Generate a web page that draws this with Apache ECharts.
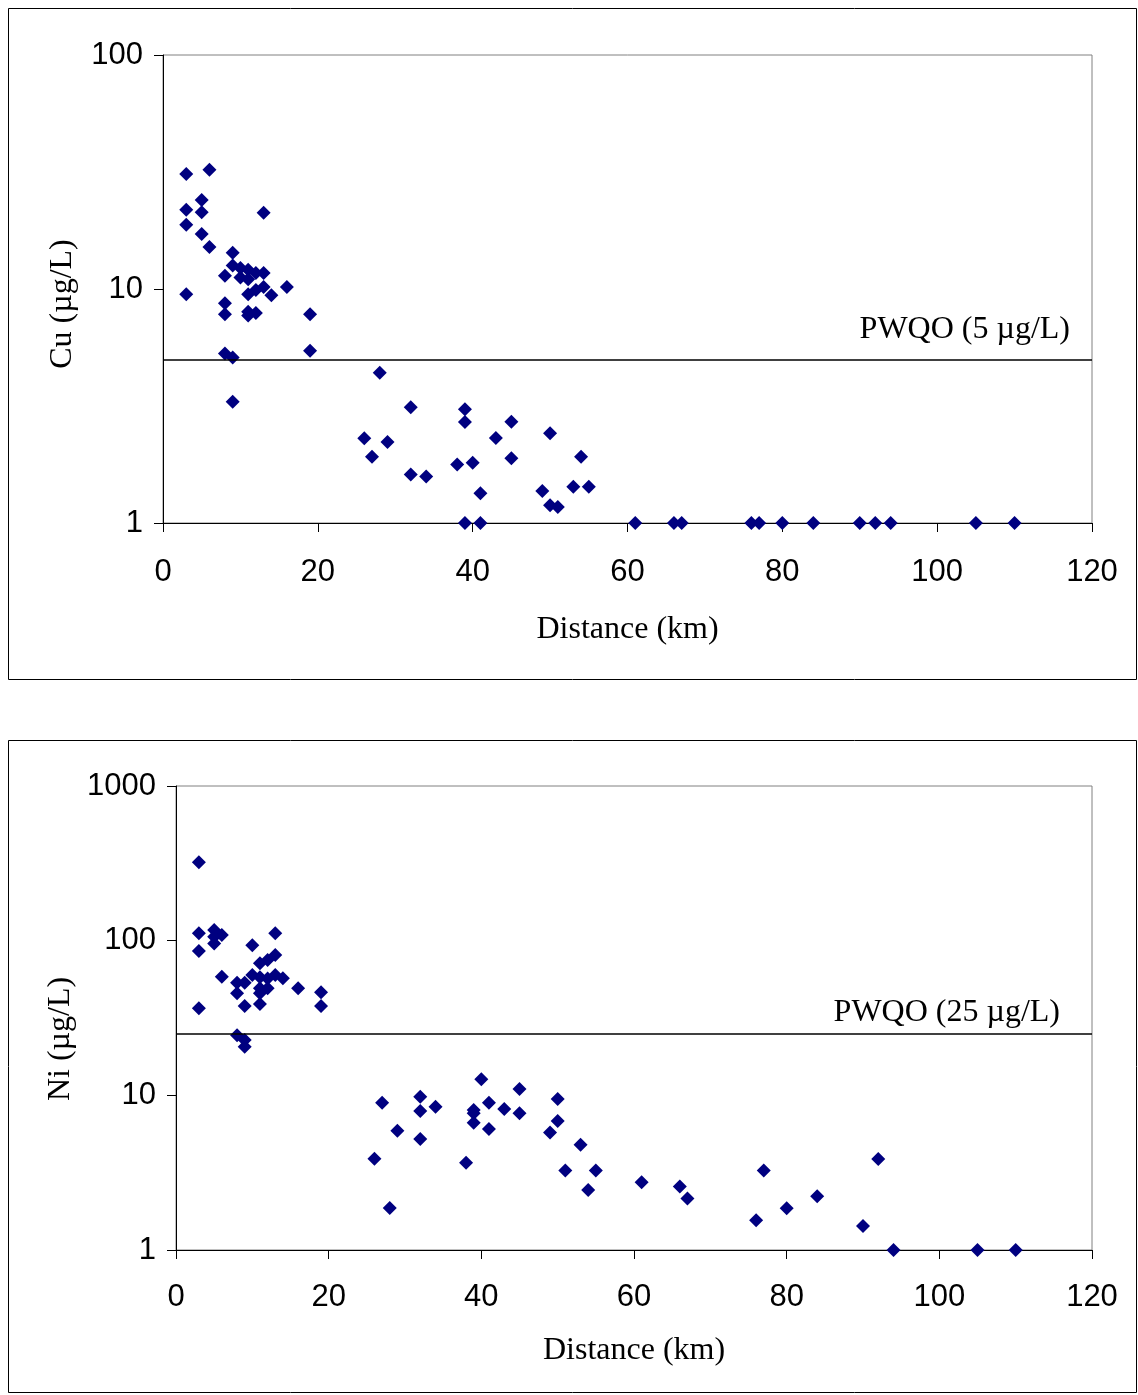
<!DOCTYPE html>
<html>
<head>
<meta charset="utf-8">
<script src="https://cdn.jsdelivr.net/npm/echarts@6/dist/echarts.min.js"></script>
<style>
html,body{margin:0;padding:0;background:#fff;}
#chart{width:1138px;height:1395px;}
</style>
</head>
<body>
<div id="chart"></div>
<script>
// ---- Data ----
const cuDistance = [3,3,3,3, 5,5,5, 6,6, 8,8,8,8, 9,9,9,9, 10,10, 11,11,11,11,11, 12,12,12, 13,13,13, 14, 16, 19,19,
  26,27,28,29, 32,32,34, 38,39,39,39, 40,41,41, 43,45,45, 49,50,50,51, 53,54,55,
  61,66,67,76,77,80,84,90,92,94,105,110];
const cuValue = [31,21.8,18.8,9.5, 24,21.3,17.2, 32.3,15.1, 11.4,8.7,7.8,5.3, 14.3,12.6,5.1,3.3, 12.3,11.2, 12.1,11.0,9.5,8.0,7.7, 11.7,9.9,7.9, 21.2,11.7,10.2, 9.4, 10.2, 7.8,5.45,
  2.3,1.92,4.39,2.22, 3.12,1.61,1.58, 1.78,3.06,2.70,1, 1.81,1.34,1, 2.31,2.71,1.89, 1.37,2.42,1.19,1.17, 1.43,1.92,1.43,
  1,1,1,1,1,1,1,1,1,1,1,1];

const niDistance = [3,3,3,3, 5,5,5, 6,6, 8,8,8, 9,9,9,9, 10,10, 11,11,11,11,11, 12,12,12, 13,13,13, 14, 16, 19,19,
  26,27,28,29, 32,32,32,34, 38,39,39,39, 40,41,41, 43,45,45, 49,50,50,51, 53,54,55,
  61,66,67,76,77,80,84,90,92, 94,105,110];
const niValue = [321,111.6,85.8,36.5, 117,106,96, 109,58.5, 53.5,45.7,24.5, 53.5,37.8,22.8,20.6, 93.3,60, 71.4,58,49.2,45.7,38.9, 75,57,49.2, 111.6,80.8,60, 57.1, 49.2, 46.4,37.8,
  3.89,8.96,1.87,5.91, 9.8,7.92,5.22,8.45, 3.67,8.04,7.66,6.65, 12.7,8.96,6.06, 8.16,11.0,7.66, 5.74,9.47,6.82,3.27, 4.80,2.44,3.27,
  2.74,2.57,2.15,1.56,3.26,1.86,2.23,1.43,3.88, 1,1,1];

const xTicks = [0,20,40,60,80,100,120];
const cuGuideline = 5, niGuideline = 25;
const cuLabel = 'PWQO (5 µg/L)', niLabel = 'PWQO (25 µg/L)';

// ---- Chart ----
const SANS = 'Liberation Sans, Arial, sans-serif';
const SERIF = 'Liberation Serif, Times New Roman, serif';
const chart = echarts.init(document.getElementById('chart'), null, {renderer:'canvas'});

function xAxisCfg(gridIndex, labelMargin, nameGap){
  return {
    gridIndex, type:'value', min:xTicks[0], max:xTicks[xTicks.length-1], interval:xTicks[1]-xTicks[0],
    name:'Distance (km)', nameLocation:'middle', nameGap,
    nameTextStyle:{fontFamily:SERIF, fontSize:32, color:'#000'},
    axisLine:{show:true, onZero:false, lineStyle:{color:'#000', width:1}},
    axisTick:{show:true, inside:false, length:9, lineStyle:{color:'#000'}},
    axisLabel:{show:true, margin:labelMargin, fontFamily:SANS, fontSize:31, color:'#000', showMinLabel:true, showMaxLabel:true,
      formatter:v=>String(v)},
    splitLine:{show:false}
  };
}
function yAxisCfg(gridIndex, max, name, nameGap, pad){
  return {
    gridIndex, type:'log', logBase:10, min:1, max,
    name, nameLocation:'middle', nameGap,
    nameTextStyle:{fontFamily:SERIF, fontSize:32, color:'#000', padding:pad},
    axisLine:{show:true, lineStyle:{color:'#000', width:1}},
    axisTick:{show:true, inside:false, length:9, lineStyle:{color:'#000'}},
    axisLabel:{show:true, margin:20, fontFamily:SANS, fontSize:31, color:'#000', showMinLabel:true, showMaxLabel:true,
      formatter:v=>String(Math.round(v))},
    splitLine:{show:false}, minorTick:{show:false}
  };
}
function seriesCfg(idx, xs, ys, guide, label, dist){
  return {
    type:'scatter', xAxisIndex:idx, yAxisIndex:idx,
    data: xs.map((x,i)=>[x, ys[i]]),
    symbol:'diamond', symbolSize:14,
    itemStyle:{color:'#000080', opacity:1},
    silent:true, animation:false,
    markLine:{
      silent:true, animation:false, symbol:['none','none'],
      lineStyle:{color:'#000', width:1.5, type:'solid', opacity:1},
      label:{show:true, position:'insideEndTop', formatter:label, fontFamily:SERIF, fontSize:32, color:'#000', distance:dist},
      data:[{yAxis:guide}]
    }
  };
}

chart.setOption({
  animation:false,
  backgroundColor:'#fff',
  grid:[
    {left:163, top:55, width:929, height:468, show:true, borderColor:'#808080', borderWidth:1, backgroundColor:'transparent', containLabel:false, outerBoundsMode:'none'},
    {left:176, top:786, width:916, height:464, show:true, borderColor:'#808080', borderWidth:1, backgroundColor:'transparent', containLabel:false, outerBoundsMode:'none'}
  ],
  xAxis:[ xAxisCfg(0, 34, 91), xAxisCfg(1, 32, 85) ],
  yAxis:[ yAxisCfg(0, 100, 'Cu (µg/L)', 84, [0,30,0,0]), yAxisCfg(1, 1000, 'Ni (µg/L)', 97, [0,42,0,0]) ],
  series:[
    seriesCfg(0, cuDistance, cuValue, cuGuideline, cuLabel, [22,14]),
    seriesCfg(1, niDistance, niValue, niGuideline, niLabel, [32,5])
  ],
  graphic:[
    {type:'rect', silent:true, shape:{x:8.5, y:8.5, width:1128, height:671}, style:{fill:'none', stroke:'#000', lineWidth:1}},
    {type:'rect', silent:true, shape:{x:8.5, y:740.5, width:1128, height:652}, style:{fill:'none', stroke:'#000', lineWidth:1}}
  ]
});
</script>
</body>
</html>
